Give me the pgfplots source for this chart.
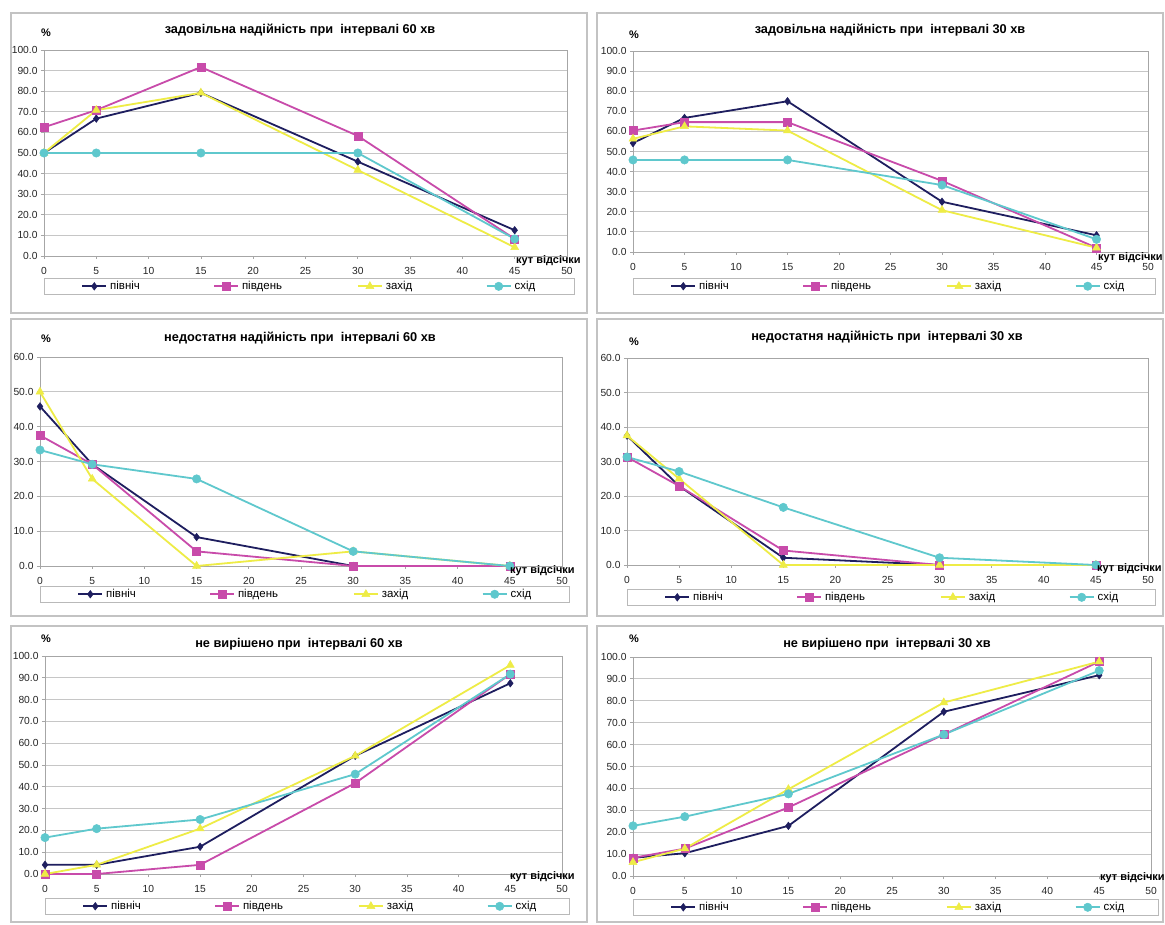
\documentclass[border=0pt]{standalone}
\usepackage{pgfplots}
\usepackage{pgfplotstable}
\pgfplotsset{compat=1.18}
\usepackage{fontspec}
\setmainfont{Liberation Sans}

\definecolor{cN}{RGB}{30,30,95}
\definecolor{cS}{RGB}{200,75,170}
\definecolor{cW}{RGB}{238,236,70}
\definecolor{cE}{RGB}{95,200,205}
\definecolor{frm}{RGB}{195,195,195}

% x = cut-off angle; N = північ, S = південь, W = захід, E = схід
\pgfplotstableread{
x  N     S     W     E
0  50.0  62.5  50.0  50.0
5  66.7  70.8  70.8  50.0
15 79.2  91.7  79.2  50.0
30 45.8  58.3  41.7  50.0
45 12.5  8.3   4.2   8.3
}\tA
\pgfplotstableread{
x  N     S     W     E
0  54.2  60.4  56.3  45.8
5  66.7  64.6  62.5  45.8
15 75.0  64.6  60.4  45.8
30 25.0  35.4  20.8  33.3
45 8.3   2.1   2.1   6.3
}\tB
\pgfplotstableread{
x  N     S     W     E
0  45.8  37.5  50.0  33.3
5  29.2  29.2  25.0  29.2
15 8.3   4.2   0.0   25.0
30 0.0   0.0   4.2   4.2
45 0.0   0.0   0.0   0.0
}\tC
\pgfplotstableread{
x  N     S     W     E
0  37.5  31.3  37.5  31.3
5  22.9  22.9  25.0  27.1
15 2.1   4.2   0.0   16.7
30 0.0   0.0   0.0   2.1
45 0.0   0.0   0.0   0.0
}\tD
\pgfplotstableread{
x  N     S     W     E
0  4.2   0.0   0.0   16.7
5  4.2   0.0   4.2   20.8
15 12.5  4.2   20.8  25.0
30 54.2  41.7  54.2  45.8
45 87.5  91.7  95.8  91.7
}\tE
\pgfplotstableread{
x  N     S     W     E
0  8.3   8.3   6.3   22.9
5  10.4  12.5  12.5  27.1
15 22.9  31.3  39.6  37.5
30 75.0  64.6  79.2  64.6
45 91.7  97.9  97.9  93.8
}\tF

\pgfplotsset{
  panel/.style={
    scale only axis, anchor=south west, clip=false,
    xmin=0, xmax=50, xtick={0,5,...,50},
    ymin=0, ytick distance=10,
    ymajorgrids, major grid style={gray!45, line width=0.8bp},
    axis line style={gray!70, line width=0.8bp},
    tick style={gray!70, line width=0.8bp},
    tick align=outside, major tick length=3bp,
    xtick pos=left, ytick pos=left,
    tick label style={font=\fontsize{10.3}{12}\selectfont, text=black!85},
    xticklabel style={yshift=-5bp},
    /pgf/number format/assume math mode=true,
    yticklabel style={/pgf/number format/fixed, /pgf/number format/fixed zerofill, /pgf/number format/precision=1},
    legend columns=4,
    legend style={draw=gray!55, fill=white, inner xsep=37bp, inner ysep=3bp,
      anchor=north west, font=\fontsize{11.5}{13}\selectfont,
      nodes={inner sep=0pt, anchor=west}, /tikz/column sep=0pt, line width=0.8bp},
    legend image code/.code={\draw[mark repeat=2, mark phase=2, #1] plot coordinates {(0bp,0bp) (12bp,0bp) (24bp,0bp)};},
  },
  sN/.style={cN, line width=1.8bp, mark=diamond*, mark size=3.8bp, mark options={solid, line width=0.5bp}},
  sS/.style={cS, line width=1.8bp, mark=square*, mark size=4bp, mark options={solid, line width=0.5bp}},
  sW/.style={cW, line width=1.8bp, mark=triangle*, mark size=4.6bp, mark options={solid, line width=0.5bp}},
  sE/.style={cE, line width=1.8bp, mark=*, mark size=4.2bp, mark options={solid, line width=0.5bp}},
}
\newcommand{\legs}[1]{\legend{\makebox[106bp][l]{\hspace{3bp}північ},\makebox[118bp][l]{\hspace{3bp}південь},\makebox[103bp][l]{\hspace{3bp}захід},\makebox[#1bp][l]{\hspace{3bp}схід}}}
\newcommand{\series}[1]{%
  \addplot[sN] table[x=x,y=N]{#1};
  \addplot[sS] table[x=x,y=S]{#1};
  \addplot[sW] table[x=x,y=W]{#1};
  \addplot[sE] table[x=x,y=E]{#1};}
\newcommand{\ttl}{\bfseries\fontsize{12.8}{14}\selectfont}
\newcommand{\kut}{\bfseries\fontsize{11}{13}\selectfont}

\begin{document}
\begin{tikzpicture}[x=1bp,y=1bp]
\path[use as bounding box, fill=white] (0bp,0bp) rectangle (1165bp,925bp);
% panel frames
\draw[frm, line width=1.2bp] (11bp,612bp) rectangle (587bp,912bp);
\draw[frm, line width=1.2bp] (597bp,612bp) rectangle (1163bp,912bp);
\draw[frm, line width=1.2bp] (11bp,309bp) rectangle (587bp,606bp);
\draw[frm, line width=1.2bp] (597bp,309bp) rectangle (1163bp,606bp);
\draw[frm, line width=1.2bp] (11bp,3bp) rectangle (587bp,299bp);
\draw[frm, line width=1.2bp] (597bp,3bp) rectangle (1163bp,299bp);

% ---- panel 1
\begin{axis}[panel, at={(44bp,669bp)}, width=523bp, height=206bp, ymax=100,
  legend style={at={(0,-0.107)}}]
\series{\tA}
\legs{26}
\end{axis}
\node[font=\ttl] at (300bp,895bp) {задовільна надійність при\ \ інтервалі 60 хв};
\node[font=\kut] at (46bp,892bp) {\%};
\node[font=\kut, anchor=west, inner sep=0pt] at (516bp,664bp) {кут відсічки};

% ---- panel 2
\begin{axis}[panel, at={(633bp,673bp)}, width=515bp, height=201bp, ymax=100,
  legend style={at={(0,-0.129)}}]
\series{\tB}
\legs{18}
\end{axis}
\node[font=\ttl] at (890bp,895bp) {задовільна надійність при\ \ інтервалі 30 хв};
\node[font=\kut] at (634bp,890bp) {\%};
\node[font=\kut, anchor=west, inner sep=0pt] at (1098bp,667bp) {кут відсічки};

% ---- panel 3
\begin{axis}[panel, at={(40bp,359bp)}, width=522bp, height=209bp, ymax=60,
  legend style={at={(0,-0.0955)}}]
\series{\tC}
\legs{25}
\end{axis}
\node[font=\ttl] at (300bp,587bp) {недостатня надійність при\ \ інтервалі 60 хв};
\node[font=\kut] at (46bp,586bp) {\%};
\node[font=\kut, anchor=west, inner sep=0pt] at (510bp,354bp) {кут відсічки};

% ---- panel 4
\begin{axis}[panel, at={(627bp,360bp)}, width=521bp, height=207bp, ymax=60,
  legend style={at={(0,-0.116)}}]
\series{\tD}
\legs{24}
\end{axis}
\node[font=\ttl] at (887bp,588bp) {недостатня надійність при\ \ інтервалі 30 хв};
\node[font=\kut] at (634bp,583bp) {\%};
\node[font=\kut, anchor=west, inner sep=0pt] at (1097bp,356bp) {кут відсічки};

% ---- panel 5
\begin{axis}[panel, at={(45bp,51bp)}, width=517bp, height=218bp, ymax=100,
  legend style={at={(0,-0.110)}}]
\series{\tE}
\legs{20}
\end{axis}
\node[font=\ttl] at (299bp,281bp) {не вирішено при\ \ інтервалі 60 хв};
\node[font=\kut] at (46bp,286bp) {\%};
\node[font=\kut, anchor=west, inner sep=0pt] at (510bp,48bp) {кут відсічки};

% ---- panel 6
\begin{axis}[panel, at={(633bp,49bp)}, width=518bp, height=219bp, ymax=100,
  legend style={at={(0,-0.105)}}]
\series{\tF}
\legs{21}
\end{axis}
\node[font=\ttl] at (887bp,281bp) {не вирішено при\ \ інтервалі 30 хв};
\node[font=\kut] at (634bp,286bp) {\%};
\node[font=\kut, anchor=west, inner sep=0pt] at (1100bp,47bp) {кут відсічки};
\end{tikzpicture}
\end{document}
